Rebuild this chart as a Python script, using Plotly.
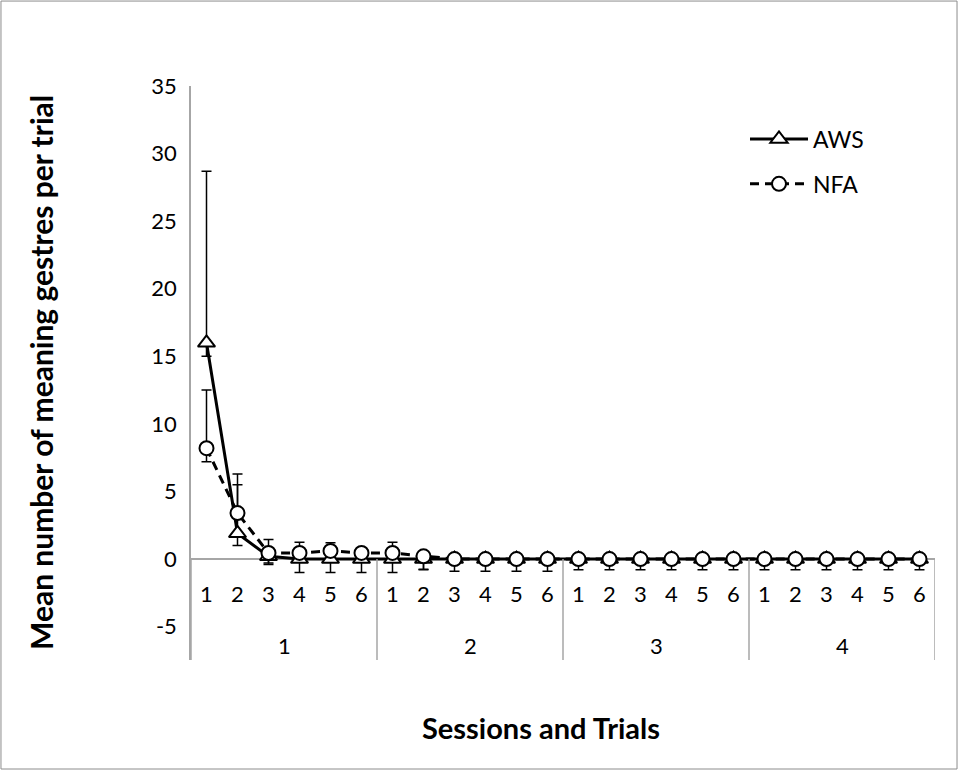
import plotly.graph_objects as go

# ---- data ----
sessions = ["1", "2", "3", "4"]
trials = ["1", "2", "3", "4", "5", "6"]
x_pos = list(range(1, 25))
trial_labels = trials * 4
y_ticks = [-5, 0, 5, 10, 15, 20, 25, 30, 35]
y_tick_labels = ["-5", "0", "5", "10", "15", "20", "25", "30", "35"]

aws = [16.0, 1.9, 0.2, 0, 0, 0, 0, 0, 0, 0, 0, 0,
       0, 0, 0, 0, 0, 0, 0, 0, 0, 0, 0, 0]
aws_plus = [12.7, 3.6, 0, 0, 0, 0, 0, 0, 0, 0, 0, 0,
            0, 0, 0, 0, 0, 0, 0, 0, 0, 0, 0, 0]
aws_minus = [1.0, 0.9, 0.6, 1.0, 1.0, 1.0, 1.0, 0.8, 0.9, 0.9, 0.9, 0.9,
             0.8, 0.8, 0.8, 0.8, 0.8, 0.8, 0.8, 0.8, 0.8, 0.8, 0.8, 0.8]

nfa = [8.2, 3.4, 0.45, 0.45, 0.6, 0.45, 0.45, 0.2, 0, 0, 0, 0,
       0, 0, 0, 0, 0, 0, 0, 0, 0, 0, 0, 0]
nfa_plus = [4.3, 2.9, 1.0, 0.8, 0.6, 0, 0.8, 0, 0, 0, 0, 0,
            0, 0, 0, 0, 0, 0, 0, 0, 0, 0, 0, 0]
nfa_minus = [1.0, 0, 0.75, 0, 0, 0, 0, 0.95, 0, 0, 0, 0,
             0, 0, 0, 0, 0, 0, 0, 0, 0, 0, 0, 0]

FONT = "Lato, 'Open Sans', sans-serif"
GRAY = "#a6a6a6"

fig = go.Figure()

fig.add_trace(go.Scatter(
    x=x_pos, y=aws, name="AWS", mode="lines+markers",
    line=dict(color="black", width=3),
    marker=dict(symbol="triangle-up", size=15, color="white",
                line=dict(color="black", width=2)),
    error_y=dict(type="data", symmetric=False, array=aws_plus,
                 arrayminus=aws_minus, color="black", thickness=1.5, width=5),
    legendgroup="a",
))
fig.add_trace(go.Scatter(
    x=x_pos, y=nfa, name="NFA", mode="lines+markers",
    line=dict(color="black", width=3, dash="9px,6px"),
    marker=dict(symbol="circle", size=14, color="white",
                line=dict(color="black", width=2)),
    error_y=dict(type="data", symmetric=False, array=nfa_plus,
                 arrayminus=nfa_minus, color="black", thickness=1.5, width=5),
    legendgroup="b",
))

# multi-level category axis: separators and labels
shapes = []
for k in range(len(sessions) + 1):
    xb = 0.5 + 6 * k
    shapes.append(dict(type="line", xref="x", yref="y", x0=xb, x1=xb,
                       y0=0, y1=-7.47, line=dict(color=GRAY, width=1.5)))
# outer chart border
shapes.append(dict(type="rect", xref="paper", yref="paper",
                   x0=-0.2554, x1=1.0296, y0=-0.1899, y1=1.148,
                   line=dict(color="#8c8c8c", width=1)))

annotations = []
for xi, t in zip(x_pos, trial_labels):
    annotations.append(dict(x=xi, y=-2.52, xref="x", yref="y", text=t,
                            showarrow=False, font=dict(size=22, color="black", family=FONT)))
for k, s in enumerate(sessions):
    annotations.append(dict(x=3.5 + 6 * k, y=-6.36, xref="x", yref="y", text=s,
                            showarrow=False, font=dict(size=22, color="black", family=FONT)))
annotations.append(dict(x=(41 - 191) / 744, y=(660 - 373) / 574, xref="paper", yref="paper",
                        xanchor="center", yanchor="middle",
                        text="<b>Mean number of meaning gestres per trial</b>",
                        textangle=-90, showarrow=False,
                        font=dict(size=30, color="black", family=FONT)))
annotations.append(dict(x=(541 - 191) / 744, y=(660 - 727) / 574, xref="paper", yref="paper",
                        xanchor="center", yanchor="middle",
                        text="<b>Sessions and Trials</b>", showarrow=False,
                        font=dict(size=29, color="black", family=FONT)))

fig.update_layout(
    width=959, height=771,
    margin=dict(l=191, r=24, t=86, b=111),
    paper_bgcolor="white", plot_bgcolor="white",
    showlegend=True,
    legend=dict(x=(745 - 191) / 744, y=(660 - 161.5) / 574, xanchor="left", yanchor="middle",
                font=dict(size=23, color="black", family=FONT),
                traceorder="grouped", tracegroupgap=12, itemwidth=58,
                bgcolor="rgba(0,0,0,0)"),
    xaxis=dict(range=[0.5, 24.5], showticklabels=False, showgrid=False,
               zeroline=False, showline=False, ticks=""),
    yaxis=dict(range=[-7.47, 35], tickvals=y_ticks, ticktext=y_tick_labels,
               showgrid=False, zeroline=True, zerolinecolor=GRAY, zerolinewidth=1.5,
               showline=True, linecolor=GRAY, linewidth=1.5, ticks="",
               ticklabelstandoff=8,
               tickfont=dict(size=22, color="black", family=FONT)),
    shapes=shapes, annotations=annotations,
)

fig.write_html("out.html", config={"displayModeBar": False},
               post_script="document.body.style.margin='0';")
